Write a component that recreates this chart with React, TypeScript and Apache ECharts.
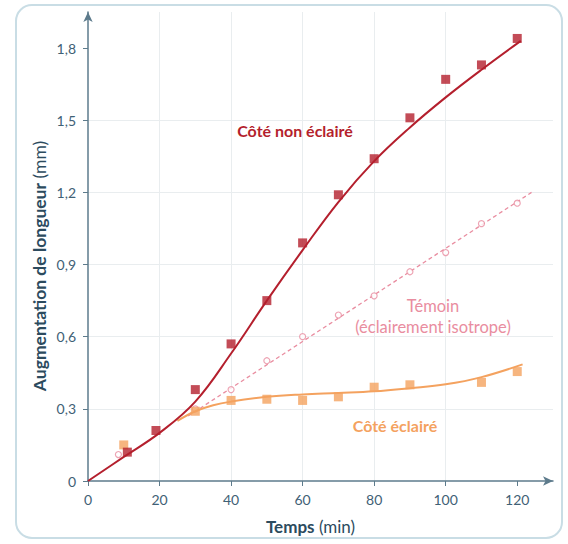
import React, { useEffect, useRef } from "react";
import * as echarts from "echarts";

// Tick values
const xTicks = [0, 20, 40, 60, 80, 100, 120];
const yTicks = [0, 0.3, 0.6, 0.9, 1.2, 1.5, 1.8];

// Côté non éclairé: measured points and fitted curve
const nonEclairePoints = [
  [11, 0.12], [19, 0.21], [30, 0.38], [40, 0.57], [50, 0.75], [60, 0.99],
  [70, 1.19], [80, 1.34], [90, 1.51], [100, 1.67], [110, 1.73], [120, 1.84],
];
const nonEclaireCurve = [
  [0, 0], [10, 0.1], [20, 0.2], [30, 0.33], [40, 0.53], [50, 0.75], [60, 0.96],
  [70, 1.16], [80, 1.33], [90, 1.47], [100, 1.595], [110, 1.71], [121, 1.83],
];

// Témoin (éclairement isotrope)
const temoinPoints = [
  [8.5, 0.11], [30, 0.3], [40, 0.38], [50, 0.5], [60, 0.6], [70, 0.69],
  [80, 0.77], [90, 0.87], [100, 0.95], [110, 1.07], [120, 1.155],
];
const temoinLine = [[28, 0.27], [124, 1.2]];

// Côté éclairé
const eclairePoints = [
  [10, 0.15], [30, 0.29], [40, 0.335], [50, 0.34], [60, 0.335], [70, 0.35],
  [80, 0.39], [90, 0.4], [110, 0.41], [120, 0.455],
];
const eclaireCurve = [
  [25, 0.25], [30, 0.29], [35, 0.315], [40, 0.33], [50, 0.35], [60, 0.36],
  [70, 0.366], [80, 0.373], [90, 0.386], [100, 0.402], [110, 0.432], [121.5, 0.485],
];

const FONT = "Lato, 'DejaVu Sans', sans-serif";
const AXIS = "#5d7b8c";
const LABEL = "#3f6176";
const NAME = "#2c4b5e";
const RED = "#b41f2d";
const PINK = "#e98da0";
const ORANGE = "#f4a25f";

const fmt = (v: number) => (v === 0 ? "0" : v.toFixed(1).replace(".", ","));

export default function App() {
  const ref = useRef<HTMLDivElement>(null);
  useEffect(() => {
    if (!ref.current) return;
    const chart = echarts.init(ref.current, undefined, { renderer: "svg" });
    chart.setOption({
      animation: false,
      backgroundColor: "#ffffff",
      grid: { left: 88, right: 15, top: 12, bottom: 63, containLabel: false },
      xAxis: {
        type: "value",
        min: 0,
        max: 130,
        interval: 20,
        name: "{b|Temps} (min)",
        nameLocation: "middle",
        nameGap: 37,
        nameTextStyle: {
          fontFamily: FONT, fontSize: 17, color: NAME, padding: [0, 20, 0, 0],
          rich: { b: { fontFamily: FONT, fontSize: 17, fontWeight: "bold", color: NAME } },
        },
        axisLine: { show: true, lineStyle: { color: AXIS, width: 1.5 }, symbol: ["none", "arrow"], symbolSize: [7, 10] },
        axisTick: { show: true, length: 5, lineStyle: { color: AXIS }, customValues: xTicks },
        axisLabel: { fontFamily: FONT, fontSize: 14, color: LABEL, margin: 11, customValues: xTicks, formatter: (v: number) => String(v) },
        splitLine: { show: true, showMinLine: false, showMaxLine: false, lineStyle: { color: "#e9edef", width: 1 } },
      },
      yAxis: {
        type: "value",
        min: 0,
        max: 1.95,
        interval: 0.3,
        axisLine: { show: true, lineStyle: { color: AXIS, width: 1.5 }, symbol: ["none", "arrow"], symbolSize: [7, 10] },
        axisTick: { show: true, length: 5, lineStyle: { color: AXIS }, customValues: yTicks },
        axisLabel: { fontFamily: FONT, fontSize: 14, color: LABEL, margin: 12, customValues: yTicks, formatter: (v: number) => fmt(v) },
        splitLine: { show: true, showMinLine: false, showMaxLine: false, lineStyle: { color: "#e9edef", width: 1 } },
      },
      graphic: [
        {
          type: "rect", z: -10, silent: true,
          shape: { x: 16, y: 5, width: 546, height: 533, r: 16 },
          style: { fill: "none", stroke: "#c9dde5", lineWidth: 2 },
        },
        {
          type: "text", x: 39, y: 266, rotation: Math.PI / 2, z: 100,
          style: {
            text: "{b|Augmentation de longueur} (mm)",
            fill: NAME, font: `17.5px ${FONT}`, align: "center", verticalAlign: "middle",
            rich: { b: { font: `bold 17.5px ${FONT}`, fill: NAME } },
          },
        },
        {
          type: "text", x: 295, y: 130, z: 100,
          style: { text: "Côté non éclairé", fill: RED, font: `bold 16px ${FONT}`, align: "center", verticalAlign: "middle" },
        },
        {
          type: "text", x: 433, y: 316.5, z: 100,
          style: { text: "Témoin\n(éclairement isotrope)", fill: PINK, font: `16.5px ${FONT}`, align: "center", verticalAlign: "middle", lineHeight: 21 },
        },
        {
          type: "text", x: 395, y: 425, z: 100,
          style: { text: "Côté éclairé", fill: ORANGE, font: `bold 16px ${FONT}`, align: "center", verticalAlign: "middle" },
        },
      ],
      series: [
        {
          type: "line", data: temoinLine, showSymbol: false, z: 2,
          lineStyle: { color: PINK, width: 1.3, type: [4, 3] },
        },
        {
          type: "scatter", data: temoinPoints, symbol: "circle", symbolSize: 6, z: 3,
          itemStyle: { color: "#ffffff", borderColor: PINK, borderWidth: 1.2 },
        },
        {
          type: "line", data: eclaireCurve, smooth: 0.4, showSymbol: false, z: 4,
          lineStyle: { color: ORANGE, width: 2 },
        },
        {
          type: "scatter", data: eclairePoints, symbol: "rect", symbolSize: 9, z: 5,
          itemStyle: { color: ORANGE },
        },
        {
          type: "line", data: nonEclaireCurve, smooth: 0.4, showSymbol: false, z: 6,
          lineStyle: { color: RED, width: 2 },
        },
        {
          type: "scatter", data: nonEclairePoints, symbol: "rect", symbolSize: 9, z: 7,
          itemStyle: { color: RED },
        },
      ],
    });
    return () => chart.dispose();
  }, []);
  return (
    <div
      ref={ref}
      style={{ position: "fixed", left: 0, top: 0, width: 568, height: 544 }}
    />
  );
}
